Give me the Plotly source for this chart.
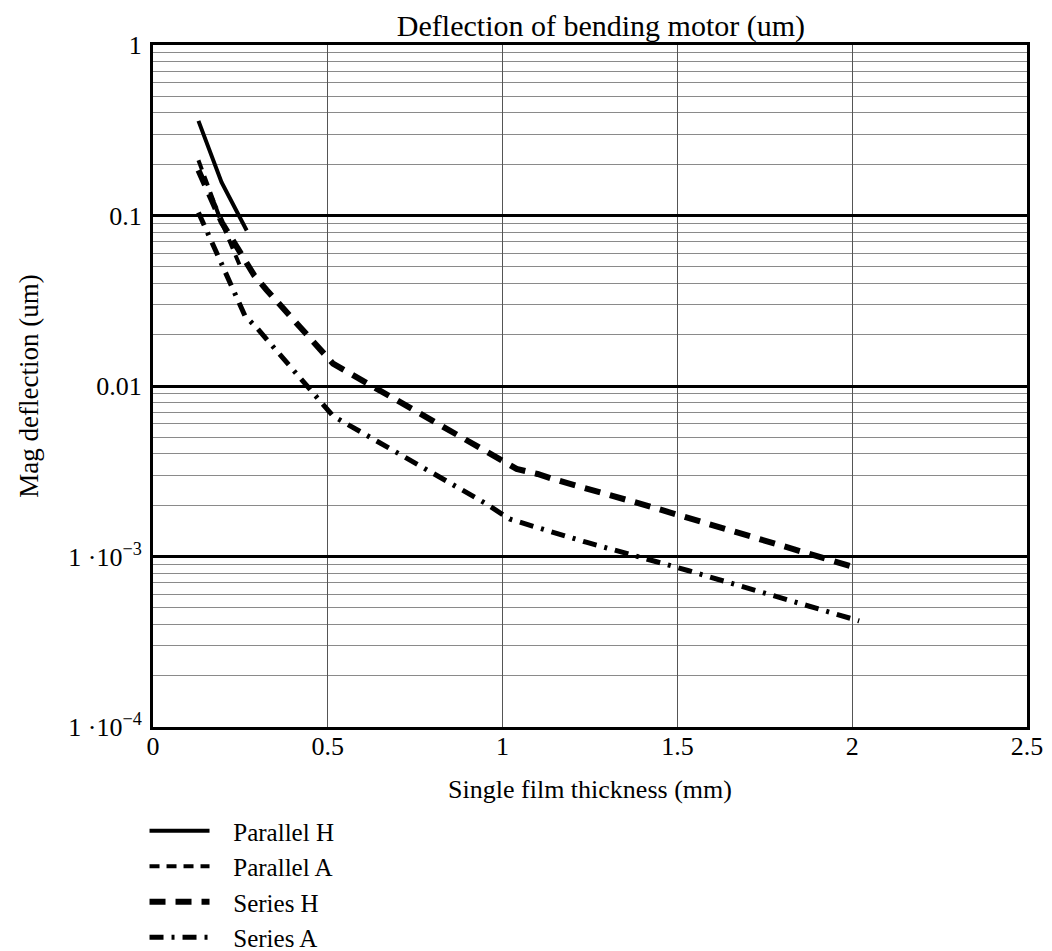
import plotly.graph_objects as go

# ---- data ----
parallel_h_x = [0.13, 0.196, 0.268]
parallel_h_y = [0.359, 0.157, 0.0817]

parallel_a_x = [0.13, 0.16, 0.19, 0.25]
parallel_a_y = [0.211, 0.145, 0.098, 0.050]

series_h_x = [0.13, 0.197, 0.29, 0.325, 0.515, 0.93, 1.0, 1.04, 1.1, 1.15, 1.41, 1.62, 1.83, 2.0]
series_h_y = [0.184, 0.091, 0.0444, 0.0366, 0.01352, 0.004365, 0.00363, 0.003266, 0.003048,
              0.002825, 0.001995, 0.001486, 0.00112, 0.000873]

series_a_x = [0.13, 0.263, 0.297, 0.515, 0.949, 1.02, 1.096, 1.239, 1.53, 1.815, 2.02]
series_a_y = [0.1042, 0.02582, 0.02193, 0.006668, 0.002061, 0.00166, 0.001486, 0.001213,
              0.000828, 0.000556, 0.000419]

series_names = ["Parallel H", "Parallel A", "Series H", "Series A"]

x_ticks = [0, 0.5, 1, 1.5, 2, 2.5]
x_tick_text = ["0", "0.5", "1", "1.5", "2", "2.5"]
y_ticks = [1e-4, 1e-3, 1e-2, 1e-1, 1]
y_tick_text = ["1 ·10<sup>−4</sup>", "1 ·10<sup>−3</sup>", "0.01", "0.1", "1"]

FONT = "Liberation Serif"
PAD = "\u00a0\u00a0\u00a0"

fig = go.Figure()
fig.add_trace(go.Scatter(x=parallel_h_x, y=parallel_h_y, mode="lines", name=PAD + series_names[0],
                         line=dict(color="black", width=4)))
fig.add_trace(go.Scatter(x=parallel_a_x, y=parallel_a_y, mode="lines", name=PAD + series_names[1],
                         line=dict(color="black", width=4, dash="10px,7px")))
fig.add_trace(go.Scatter(x=series_h_x, y=series_h_y, mode="lines", name=PAD + series_names[2],
                         line=dict(color="black", width=6, dash="16px,10px")))
fig.add_trace(go.Scatter(x=series_a_x, y=series_a_y, mode="lines", name=PAD + series_names[3],
                         line=dict(color="black", width=5, dash="14px,8px,3px,8px")))

minor_y = [m * 10 ** e for e in range(-4, 0) for m in range(2, 10)]

# the page body has an 8px margin, so the figure is sized to fit the window
fig.update_layout(
    width=1044, height=943,
    margin=dict(l=145, r=25, t=37, b=224, autoexpand=False),
    paper_bgcolor="white", plot_bgcolor="white",
    font=dict(family=FONT, size=26, color="black"),
    title=dict(text="Deflection of bending motor (um)", x=0.568, xref="container",
               xanchor="center", y=0.993, yref="container", yanchor="top", pad=dict(t=0),
               font=dict(family=FONT, size=30, color="black")),
    showlegend=True,
    legend=dict(x=-0.0097, xanchor="left", y=-0.1188, yanchor="top",
                bgcolor="rgba(0,0,0,0)", font=dict(family=FONT, size=25, color="black"),
                tracegroupgap=0, itemwidth=60),
    xaxis=dict(range=[0, 2.5], tickmode="array", tickvals=x_ticks, ticktext=x_tick_text,
               tickfont=dict(family=FONT, size=26, color="black"), ticklabelstandoff=-6,
               showgrid=True, gridcolor="#555555", gridwidth=1,
               showline=True, linecolor="black", linewidth=3, mirror=True,
               ticks="", zeroline=False,
               title=dict(text="Single film thickness (mm)", standoff=20,
                          font=dict(family=FONT, size=26, color="black"))),
    yaxis=dict(type="log", range=[-4, 0], tickmode="array", tickvals=y_ticks,
               ticktext=y_tick_text, ticklabelstandoff=3,
               tickfont=dict(family=FONT, size=26, color="black"),
               showgrid=True, gridcolor="black", gridwidth=3,
               minor=dict(tickvals=minor_y, showgrid=True, gridcolor="#8a8a8a", gridwidth=1,
                          ticks=""),
               showline=True, linecolor="black", linewidth=3, mirror=True,
               ticks="", zeroline=False,
               title=dict(text="Mag deflection (um)", standoff=22,
                          font=dict(family=FONT, size=27, color="black"))),
)

fig.write_html("out.html")
